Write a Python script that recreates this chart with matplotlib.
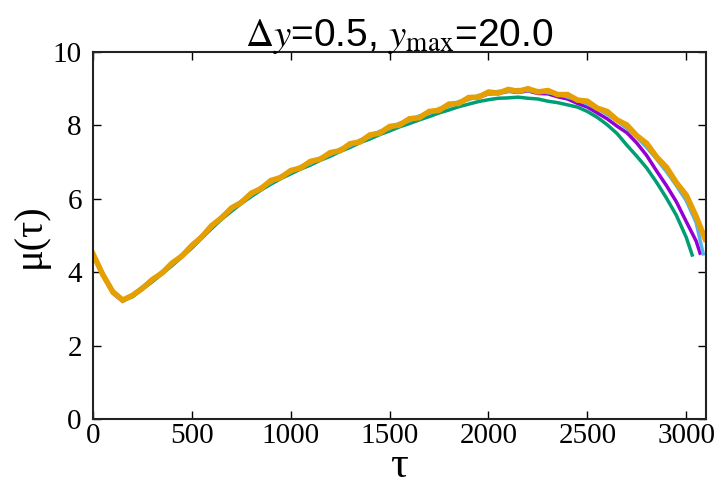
"""mu(tau) curves for dy=0.5, ymax=20.0."""

import matplotlib

matplotlib.use("Agg")
import matplotlib.pyplot as plt

plt.rcParams["mathtext.fontset"] = "stix"
plt.rcParams["font.family"] = ["Liberation Sans", "DejaVu Sans"]

# sample grid shared by all runs (tau = 0, 50, ..., 3050)
tau_grid = list(range(0, 3051, 50))

mu_purple = [4.47, 3.92, 3.43, 3.21, 3.36, 3.58, 3.79, 3.99, 4.23, 4.45,
             4.71, 4.97, 5.24, 5.49, 5.73, 5.91, 6.13, 6.29, 6.47, 6.59,
             6.75, 6.85, 6.99, 7.09, 7.23, 7.33, 7.47, 7.57, 7.71, 7.81,
             7.94, 8.03, 8.15, 8.23, 8.35, 8.43, 8.55, 8.61, 8.73, 8.76,
             8.86, 8.87, 8.93, 8.90, 8.94, 8.87, 8.86, 8.78, 8.72, 8.60,
             8.50, 8.34, 8.18, 7.98, 7.80, 7.52, 7.18, 6.76, 6.36, 5.92,
             5.38, 4.85]
end_purple = (3070, 4.52)

mu_green = [4.46, 3.97, 3.48, 3.23, 3.33, 3.54, 3.74, 3.96, 4.18, 4.42,
            4.66, 4.93, 5.19, 5.44, 5.66, 5.87, 6.06, 6.24, 6.40, 6.55,
            6.68, 6.81, 6.92, 7.05, 7.16, 7.29, 7.40, 7.53, 7.63, 7.75,
            7.85, 7.96, 8.05, 8.15, 8.24, 8.34, 8.42, 8.51, 8.58, 8.65,
            8.70, 8.74, 8.75, 8.77, 8.74, 8.72, 8.66, 8.62, 8.56, 8.50,
            8.38, 8.22, 8.02, 7.78, 7.46, 7.16, 6.84, 6.45, 6.02, 5.55,
            4.95]
end_green = (3030, 4.47)

mu_blue = [4.48, 3.95, 3.44, 3.22, 3.38, 3.60, 3.77, 4.02, 4.21, 4.48,
           4.69, 5.00, 5.23, 5.52, 5.70, 5.94, 6.10, 6.32, 6.44, 6.62,
           6.72, 6.88, 6.96, 7.12, 7.20, 7.36, 7.44, 7.60, 7.68, 7.84,
           7.91, 8.06, 8.12, 8.26, 8.32, 8.46, 8.52, 8.65, 8.70, 8.82,
           8.85, 8.93, 8.92, 8.98, 8.94, 8.95, 8.89, 8.86, 8.77, 8.70,
           8.58, 8.46, 8.30, 8.12, 7.92, 7.68, 7.40, 7.08, 6.74, 6.36,
           5.95, 5.35]
end_blue = (3086, 4.50)

mu_orange = [4.50, 3.93, 3.47, 3.24, 3.37, 3.56, 3.80, 3.98, 4.25, 4.44,
             4.73, 4.96, 5.27, 5.48, 5.75, 5.90, 6.15, 6.28, 6.50, 6.58,
             6.77, 6.84, 7.02, 7.08, 7.26, 7.31, 7.50, 7.55, 7.74, 7.79,
             7.97, 8.01, 8.18, 8.21, 8.38, 8.41, 8.58, 8.60, 8.76, 8.77,
             8.91, 8.88, 8.98, 8.93, 9.00, 8.91, 8.95, 8.84, 8.84, 8.69,
             8.66, 8.47, 8.38, 8.15, 8.01, 7.72, 7.51, 7.14, 6.86, 6.44,
             6.10, 5.52]
end_orange = (3096, 4.90)

series = [
    (mu_purple, end_purple, "#9400D3", 2.5),
    (mu_green, end_green, "#009E73", 2.5),
    (mu_blue, end_blue, "#56B4E9", 2.5),
    (mu_orange, end_orange, "#E69F00", 4.0),
]

fig = plt.figure(figsize=(7.23, 4.87), dpi=100)
ax = fig.add_axes([0.1286, 0.1396, 0.8479, 0.7536])

for values, end, color, lw in series:
    x = tau_grid[:len(values)] + [end[0]]
    y = values + [end[1]]
    ax.plot(x, y, color=color, lw=lw, solid_joinstyle="miter")

ax.set_xlim(0, 3100)
ax.set_ylim(0, 10)
ax.set_xticks([0, 500, 1000, 1500, 2000, 2500, 3000])
ax.set_yticks([0, 2, 4, 6, 8, 10])

for spine in ax.spines.values():
    spine.set_linewidth(1.5)
    spine.set_color("#222222")
ax.tick_params(direction="in", length=6, width=1.0, top=True, right=True,
               labelsize=21)
ax.tick_params(axis="x", pad=3)
ax.tick_params(axis="y", pad=8)
for label in ax.get_xticklabels() + ax.get_yticklabels():
    label.set_fontfamily("Liberation Serif")

ax.set_title(r"$\Delta y$=0.5, $y_{\mathrm{max}}$=20.0", fontsize=28, pad=4)
ax.set_xlabel("τ", fontsize=32, family="Liberation Serif", labelpad=-2)
ax.set_ylabel("μ(τ)", fontsize=29, family="Liberation Serif", labelpad=3)

fig.savefig("out.png", dpi=100)
